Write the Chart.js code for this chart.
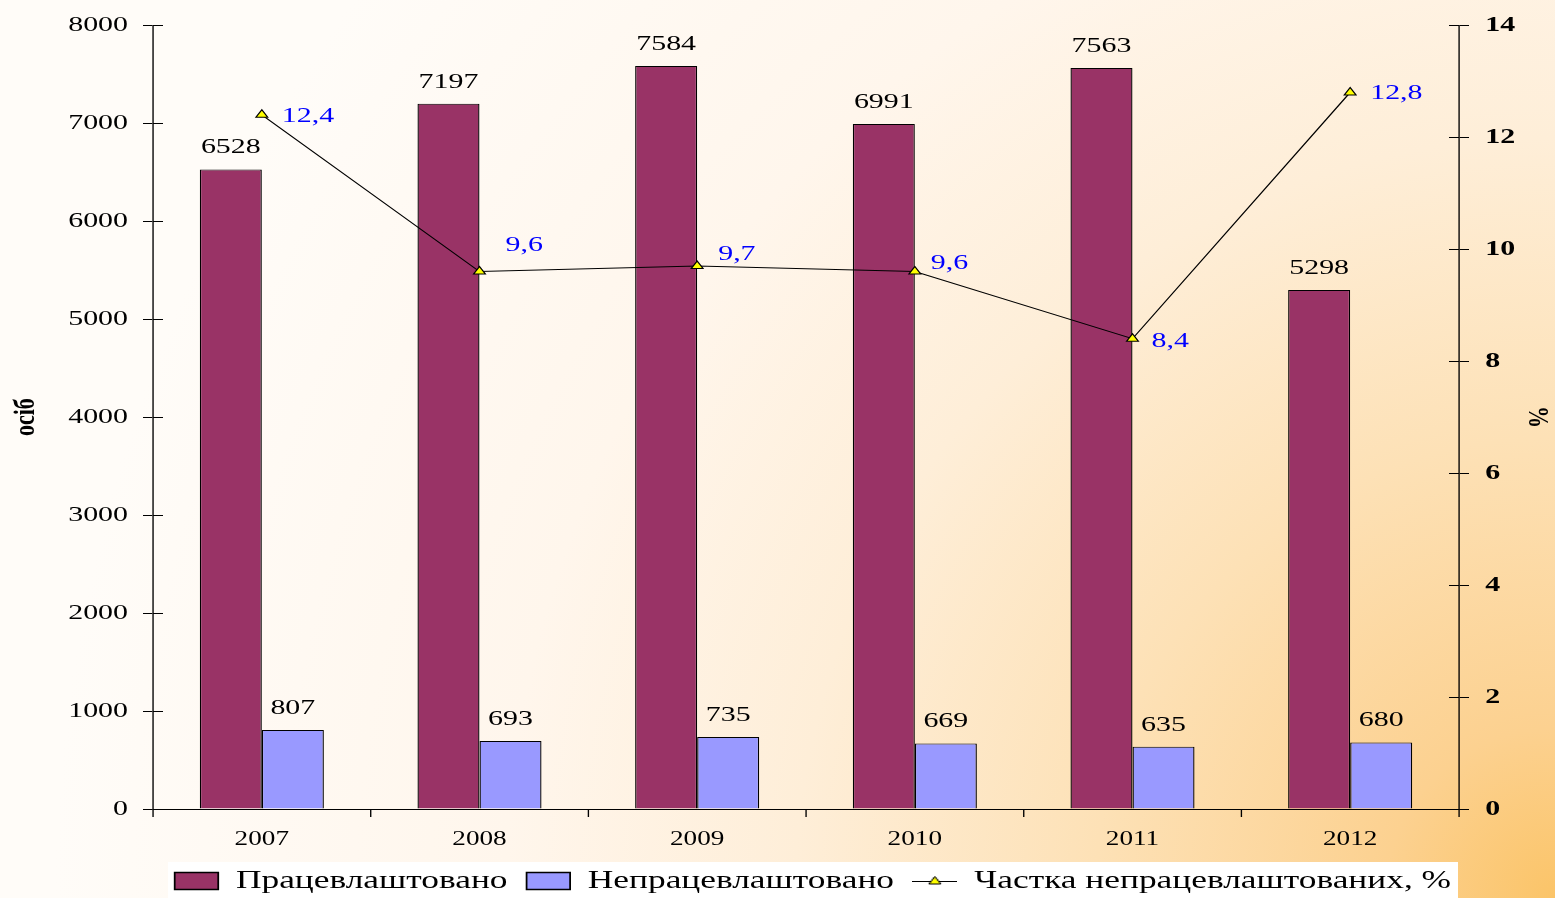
<!DOCTYPE html>
<html>
<head>
<meta charset="utf-8">
<script src="https://cdn.jsdelivr.net/npm/chart.js@4.4.1/dist/chart.umd.min.js"></script>
<style>
  html, body { margin: 0; padding: 0; }
  body {
    width: 1555px; height: 898px; overflow: hidden; position: relative;
    background: radial-gradient(circle at 100% 100%, #fbc468 0px, #fcd190 170px, #fde1b6 460px, #feeed8 760px, #fff6ec 1050px, #fffcf8 1500px);
  }
  canvas { position: absolute; left: 0; top: 0; }
</style>
</head>
<body>
<canvas id="c" width="1143" height="898"></canvas>
<script>
// ---- data ----
const years = ['2007', '2008', '2009', '2010', '2011', '2012'];
const employed = [6528, 7197, 7584, 6991, 7563, 5298];
const unemployed = [807, 693, 735, 669, 635, 680];
const share = [12.4, 9.6, 9.7, 9.6, 8.4, 12.8];
const seriesNames = ['Працевлаштовано', 'Непрацевлаштовано', 'Частка непрацевлаштованих, %'];
const leftTitle = 'осіб';
const rightTitle = '%';

// label nudges for the share labels (screen px, relative to each point)
const shareLabelDx = [20, 26, 21, 16, 19, 20];
const shareLabelDy = [1, -26, -12, -8, 2, 1];

// ---- geometry (chart is drawn in a 1143px-wide space, stretched to 1555px) ----
const W = 1143, H = 898, SX = 1555 / W;
const FAMILY = '"Liberation Serif", "Times New Roman", serif';
Chart.defaults.font.family = FAMILY;
Chart.defaults.color = '#000';
const TICK = 10 / SX;

// legend symbol for the line series
const lineIcon = document.createElement('canvas');
lineIcon.width = 33; lineIcon.height = 12;
(function () {
  const c = lineIcon.getContext('2d');
  c.strokeStyle = '#000'; c.lineWidth = 1;
  c.beginPath(); c.moveTo(0, 6.5); c.lineTo(33, 6.5); c.stroke();
  const r = 5, cx = 16.5, cy = 6.5;
  c.beginPath();
  c.moveTo(cx, cy - r);
  c.lineTo(cx + r * 0.866, cy + r / 2);
  c.lineTo(cx - r * 0.866, cy + r / 2);
  c.closePath();
  c.fillStyle = '#ffff00'; c.fill(); c.stroke();
})();

const decor = {
  id: 'decor',
  afterLayout(chart) {
    const l = chart.legend;
    l.left += 26; l.right += 26; l.top += 6; l.bottom += 6;
  },
  beforeDraw(chart) {
    const ctx = chart.ctx;
    ctx.save();
    ctx.fillStyle = '#ffffff';
    ctx.fillRect(168 / SX, 862, (1458 - 168) / SX, 36);
    ctx.restore();
  },
  afterDatasetsDraw(chart) {
    const ctx = chart.ctx;
    const area = chart.chartArea;
    ctx.save();
    // inner halves of the crossing tick marks
    ctx.strokeStyle = '#000';
    ctx.lineWidth = 1;
    ctx.beginPath();
    chart.scales.y.ticks.forEach(t => {
      const py = Math.round(chart.scales.y.getPixelForValue(t.value)) + 0.5;
      ctx.moveTo(area.left, py); ctx.lineTo(area.left + TICK, py);
    });
    chart.scales.y2.ticks.forEach(t => {
      const py = Math.round(chart.scales.y2.getPixelForValue(t.value)) + 0.5;
      ctx.moveTo(area.right - TICK, py); ctx.lineTo(area.right, py);
    });
    ctx.stroke();

    ctx.font = '22px ' + FAMILY;
    ctx.fillStyle = '#000';
    ctx.textAlign = 'center';
    ctx.textBaseline = 'alphabetic';
    [0, 1].forEach(di => {
      const meta = chart.getDatasetMeta(di);
      meta.data.forEach((bar, i) => {
        ctx.fillText(String(chart.data.datasets[di].data[i]), bar.x, bar.y - 16);
      });
    });
    const lm = chart.getDatasetMeta(2);
    ctx.fillStyle = '#0000ff';
    ctx.textAlign = 'left';
    ctx.textBaseline = 'middle';
    lm.data.forEach((pt, i) => {
      ctx.fillText(share[i].toFixed(1).replace('.', ','), pt.x + shareLabelDx[i] / SX, pt.y + shareLabelDy[i]);
    });
    ctx.restore();
  }
};

const cfg = {
  data: {
    labels: years,
    datasets: [
      { type: 'bar', label: seriesNames[0], data: employed, backgroundColor: '#993366', borderColor: '#000', borderWidth: 1, yAxisID: 'y', order: 1 },
      { type: 'bar', label: seriesNames[1], data: unemployed, backgroundColor: '#9999ff', borderColor: '#000', borderWidth: 1, yAxisID: 'y', order: 1 },
      { type: 'line', label: seriesNames[2], data: share, yAxisID: 'y2', order: 0,
        borderColor: '#000', borderWidth: 1, pointStyle: 'triangle', pointRadius: 5,
        pointBackgroundColor: '#ffff00', pointBorderColor: '#000', pointBorderWidth: 1, tension: 0 }
    ]
  },
  options: {
    responsive: false,
    animation: false,
    events: [],
    devicePixelRatio: 1,
    layout: { padding: { top: 23, left: 0, right: 0, bottom: 0 } },
    datasets: { bar: { categoryPercentage: 0.57, barPercentage: 1.0 } },
    plugins: {
      tooltip: { enabled: false },
      legend: {
        position: 'bottom',
        labels: {
          usePointStyle: true, pointStyleWidth: 32, boxHeight: 17,
          font: { size: 26 }, padding: 14, color: '#000',
          generateLabels(chart) {
            return chart.data.datasets.map((ds, i) => ({
              text: ds.label,
              fillStyle: i === 2 ? 'rgba(0,0,0,0)' : ds.backgroundColor,
              strokeStyle: '#000',
              lineWidth: 1.3,
              pointStyle: i === 2 ? lineIcon : 'rect',
              hidden: false,
              datasetIndex: i,
              fontColor: '#000'
            }));
          }
        }
      }
    },
    scales: {
      x: {
        grid: { offset: true, drawOnChartArea: false, drawTicks: true, tickLength: 8, color: '#000' },
        border: { color: '#000', width: 1 },
        ticks: { color: '#000', font: { size: 20 }, padding: 11 },
        afterFit(s) { s.height = 39; }
      },
      y: {
        position: 'left', min: 0, max: 8000,
        ticks: { stepSize: 1000, color: '#000', font: { size: 22 }, padding: 11, callback: v => String(v) },
        grid: { drawOnChartArea: false, tickLength: TICK, color: '#000' },
        border: { color: '#000', width: 1 },
        title: { display: true, text: leftTitle, color: '#000', font: { size: 22, weight: 'bold' }, padding: { top: 6, bottom: 0 } },
        afterFit(s) { s.width = 153 / SX; }
      },
      y2: {
        position: 'right', min: 0, max: 14,
        ticks: { stepSize: 2, color: '#000', font: { size: 22, weight: 'bold' }, padding: 12, callback: v => String(v) },
        grid: { drawOnChartArea: false, tickLength: TICK, color: '#000' },
        border: { color: '#000', width: 1 },
        title: { display: true, text: rightTitle, color: '#000', font: { size: 22, weight: 'bold' }, padding: { top: 0, bottom: 0 } },
        afterFit(s) { s.width = W - 1459 / SX; }
      }
    }
  },
  plugins: [decor]
};

const canvas = document.getElementById('c');
const chart = new Chart(canvas, cfg);
// stretch the drawing horizontally to the 1555px page width
canvas.width = 1555; canvas.height = H;
canvas.style.width = '1555px'; canvas.style.height = H + 'px';
chart.ctx.setTransform(SX, 0, 0, 1, 0, 0);
chart.draw();
</script>
</body>
</html>
